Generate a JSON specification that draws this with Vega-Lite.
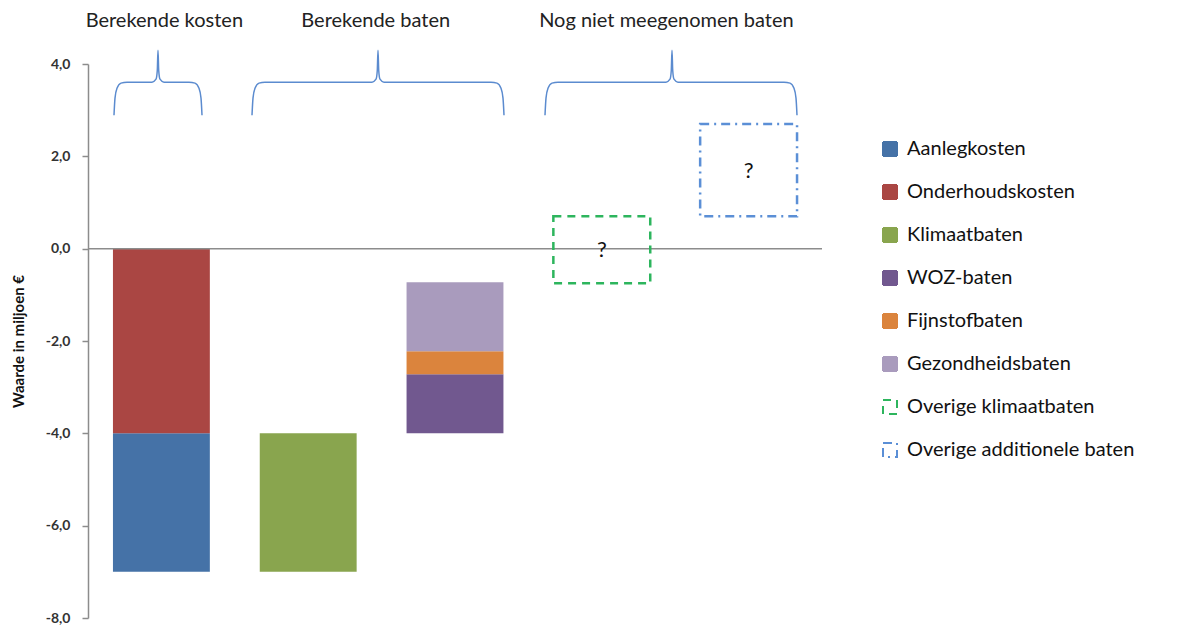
{
  "$schema": "https://vega.github.io/schema/vega-lite/v6.json",
  "width": 734,
  "height": 554,
  "autosize": {"type": "none"},
  "padding": {"left": 88, "top": 64, "right": 363, "bottom": 11},
  "config": {"view": {"stroke": null}, "font": "Lato"},
  "datasets": {
    "balken": [
      {"kolom": "1", "serie": "Aanlegkosten", "van": -7, "tot": -4},
      {"kolom": "1", "serie": "Onderhoudskosten", "van": -4, "tot": 0},
      {"kolom": "2", "serie": "Klimaatbaten", "van": -7, "tot": -4},
      {"kolom": "3", "serie": "WOZ-baten", "van": -4, "tot": -2.72},
      {"kolom": "3", "serie": "Fijnstofbaten", "van": -2.72, "tot": -2.22},
      {"kolom": "3", "serie": "Gezondheidsbaten", "van": -2.22, "tot": -0.73}
    ],
    "overig": [
      {"kolom": "4", "serie": "Overige klimaatbaten", "van": -0.75, "tot": 0.7},
      {"kolom": "5", "serie": "Overige additionele baten", "van": 0.7, "tot": 2.7}
    ],
    "vraag": [
      {"kolom": "4", "midden": -0.03, "teken": "?"},
      {"kolom": "5", "midden": 1.68, "teken": "?"}
    ],
    "koppen": [
      {"x": 0.52, "y": 4.93, "kop": "Berekende kosten"},
      {"x": 1.96, "y": 4.93, "kop": "Berekende baten"},
      {"x": 3.94, "y": 4.93, "kop": "Nog niet meegenomen baten"}
    ],
    "accolades": [
      {"groep": "a", "x": 0.1771, "y": 2.891},
      {"groep": "a", "x": 0.1839, "y": 3.26},
      {"groep": "a", "x": 0.1975, "y": 3.476},
      {"groep": "a", "x": 0.2248, "y": 3.585},
      {"groep": "a", "x": 0.2657, "y": 3.606},
      {"groep": "a", "x": 0.436, "y": 3.606},
      {"groep": "a", "x": 0.4632, "y": 3.671},
      {"groep": "a", "x": 0.4721, "y": 3.866},
      {"groep": "a", "x": 0.4768, "y": 4.299},
      {"groep": "a", "x": 0.4816, "y": 3.866},
      {"groep": "a", "x": 0.4905, "y": 3.671},
      {"groep": "a", "x": 0.5177, "y": 3.606},
      {"groep": "a", "x": 0.688, "y": 3.606},
      {"groep": "a", "x": 0.7289, "y": 3.585},
      {"groep": "a", "x": 0.7561, "y": 3.476},
      {"groep": "a", "x": 0.7698, "y": 3.26},
      {"groep": "a", "x": 0.7766, "y": 2.891},
      {"groep": "b", "x": 1.1172, "y": 2.891},
      {"groep": "b", "x": 1.124, "y": 3.26},
      {"groep": "b", "x": 1.1376, "y": 3.476},
      {"groep": "b", "x": 1.1649, "y": 3.585},
      {"groep": "b", "x": 1.2057, "y": 3.606},
      {"groep": "b", "x": 1.9346, "y": 3.606},
      {"groep": "b", "x": 1.9619, "y": 3.671},
      {"groep": "b", "x": 1.9707, "y": 3.866},
      {"groep": "b", "x": 1.9755, "y": 4.299},
      {"groep": "b", "x": 1.9803, "y": 3.866},
      {"groep": "b", "x": 1.9891, "y": 3.671},
      {"groep": "b", "x": 2.0163, "y": 3.606},
      {"groep": "b", "x": 2.7452, "y": 3.606},
      {"groep": "b", "x": 2.7861, "y": 3.585},
      {"groep": "b", "x": 2.8134, "y": 3.476},
      {"groep": "b", "x": 2.827, "y": 3.26},
      {"groep": "b", "x": 2.8338, "y": 2.891},
      {"groep": "c", "x": 3.1131, "y": 2.891},
      {"groep": "c", "x": 3.1199, "y": 3.26},
      {"groep": "c", "x": 3.1335, "y": 3.476},
      {"groep": "c", "x": 3.1608, "y": 3.585},
      {"groep": "c", "x": 3.2016, "y": 3.606},
      {"groep": "c", "x": 3.9373, "y": 3.606},
      {"groep": "c", "x": 3.9646, "y": 3.671},
      {"groep": "c", "x": 3.9734, "y": 3.866},
      {"groep": "c", "x": 3.9782, "y": 4.299},
      {"groep": "c", "x": 3.983, "y": 3.866},
      {"groep": "c", "x": 3.9918, "y": 3.671},
      {"groep": "c", "x": 4.0191, "y": 3.606},
      {"groep": "c", "x": 4.7411, "y": 3.606},
      {"groep": "c", "x": 4.782, "y": 3.585},
      {"groep": "c", "x": 4.8093, "y": 3.476},
      {"groep": "c", "x": 4.8229, "y": 3.26},
      {"groep": "c", "x": 4.8297, "y": 2.891}
    ]
  },
  "resolve": {"scale": {"x": "independent"}},
  "layer": [
    {
      "data": {"name": "balken"},
      "mark": {"type": "bar"},
      "encoding": {
        "x": {"field": "kolom", "type": "nominal", "scale": {"domain": ["1", "2", "3", "4", "5"], "paddingInner": 0.34, "paddingOuter": 0.17}, "axis": null},
        "y": {
          "field": "van", "type": "quantitative",
          "scale": {"domain": [-8, 4], "nice": false, "zero": false},
          "axis": {
            "values": [-8, -6, -4, -2, 0, 2, 4],
            "labelExpr": "replace(replace(format(datum.value, '.1f'), '.', ','), '\u2212', '-')",
            "grid": false,
            "domainColor": "#8c8c8c", "domainWidth": 1.5,
            "tickColor": "#8c8c8c", "tickSize": 6, "tickWidth": 1.5,
            "labelFontSize": 14, "labelFontWeight": "bold", "labelColor": "#333333", "labelPadding": 12,
            "title": "Waarde in miljoen €",
            "titleFontSize": 15, "titleFontWeight": "bold", "titleColor": "#111111",
            "titleX": -70, "titleY": 277, "titleAngle": -90, "titleBaseline": "middle", "titleAlign": "center"
          }
        },
        "y2": {"field": "tot"},
        "fill": {
          "field": "serie", "type": "nominal",
          "scale": {
            "domain": ["Aanlegkosten", "Onderhoudskosten", "Klimaatbaten", "WOZ-baten", "Fijnstofbaten", "Gezondheidsbaten", "Overige klimaatbaten", "Overige additionele baten"],
            "range": ["#4572A7", "#AA4643", "#89A54E", "#71588F", "#DB843D", "#A99BBD", "transparent", "transparent"]
          },
          "legend": {
            "orient": "none", "legendX": 792, "legendY": 75, "title": null,
            "symbolType": "square", "symbolSize": 196, "symbolStrokeWidth": 2,
            "labelFontSize": 20, "labelColor": "#111111", "labelOffset": 7, "rowPadding": 21, "labelLimit": 400
          }
        }
      }
    },
    {
      "data": {"values": [{}]},
      "mark": {"type": "rule", "color": "#8c8c8c", "strokeWidth": 1.5},
      "encoding": {"y": {"datum": 0, "type": "quantitative"}}
    },
    {
      "data": {"name": "overig"},
      "mark": {"type": "bar", "filled": false, "strokeWidth": 2.5},
      "encoding": {
        "x": {"field": "kolom", "type": "nominal", "scale": {"domain": ["1", "2", "3", "4", "5"], "paddingInner": 0.34, "paddingOuter": 0.17}, "axis": null},
        "y": {"field": "van", "type": "quantitative"},
        "y2": {"field": "tot"},
        "stroke": {
          "field": "serie", "type": "nominal",
          "scale": {
            "domain": ["Aanlegkosten", "Onderhoudskosten", "Klimaatbaten", "WOZ-baten", "Fijnstofbaten", "Gezondheidsbaten", "Overige klimaatbaten", "Overige additionele baten"],
            "range": ["#4572A7", "#AA4643", "#89A54E", "#71588F", "#DB843D", "#A99BBD", "#2DB55D", "#5B8FD6"]
          },
          "legend": {
            "orient": "none", "legendX": 792, "legendY": 75, "title": null,
            "symbolType": "square", "symbolSize": 196, "symbolStrokeWidth": 2,
            "labelFontSize": 20, "labelColor": "#111111", "labelOffset": 7, "rowPadding": 21, "labelLimit": 400
          }
        },
        "strokeDash": {
          "field": "serie", "type": "nominal",
          "scale": {
            "domain": ["Aanlegkosten", "Onderhoudskosten", "Klimaatbaten", "WOZ-baten", "Fijnstofbaten", "Gezondheidsbaten", "Overige klimaatbaten", "Overige additionele baten"],
            "range": [[1, 0], [1, 0], [1, 0], [1, 0], [1, 0], [1, 0], [8, 6], [9, 5, 2, 5]]
          },
          "legend": {
            "orient": "none", "legendX": 792, "legendY": 75, "title": null,
            "symbolType": "square", "symbolSize": 196, "symbolStrokeWidth": 2,
            "labelFontSize": 20, "labelColor": "#111111", "labelOffset": 7, "rowPadding": 21, "labelLimit": 400
          }
        }
      }
    },
    {
      "data": {"name": "vraag"},
      "mark": {"type": "text", "fontSize": 22, "color": "#111111", "baseline": "middle"},
      "encoding": {
        "x": {"field": "kolom", "type": "nominal", "scale": {"domain": ["1", "2", "3", "4", "5"], "paddingInner": 0.34, "paddingOuter": 0.17}, "axis": null},
        "y": {"field": "midden", "type": "quantitative"},
        "text": {"field": "teken"}
      }
    },
    {
      "data": {"name": "accolades"},
      "mark": {"type": "line", "interpolate": "monotone", "color": "#5B8BCF", "strokeWidth": 1.5},
      "encoding": {
        "x": {"field": "x", "type": "quantitative", "scale": {"domain": [0, 5], "nice": false, "zero": false}, "axis": null},
        "y": {"field": "y", "type": "quantitative"},
        "detail": {"field": "groep"}
      }
    },
    {
      "data": {"name": "koppen"},
      "mark": {"type": "text", "fontSize": 20, "color": "#222222", "baseline": "middle"},
      "encoding": {
        "x": {"field": "x", "type": "quantitative", "scale": {"domain": [0, 5], "nice": false, "zero": false}, "axis": null},
        "y": {"field": "y", "type": "quantitative"},
        "text": {"field": "kop"}
      }
    }
  ]
}
